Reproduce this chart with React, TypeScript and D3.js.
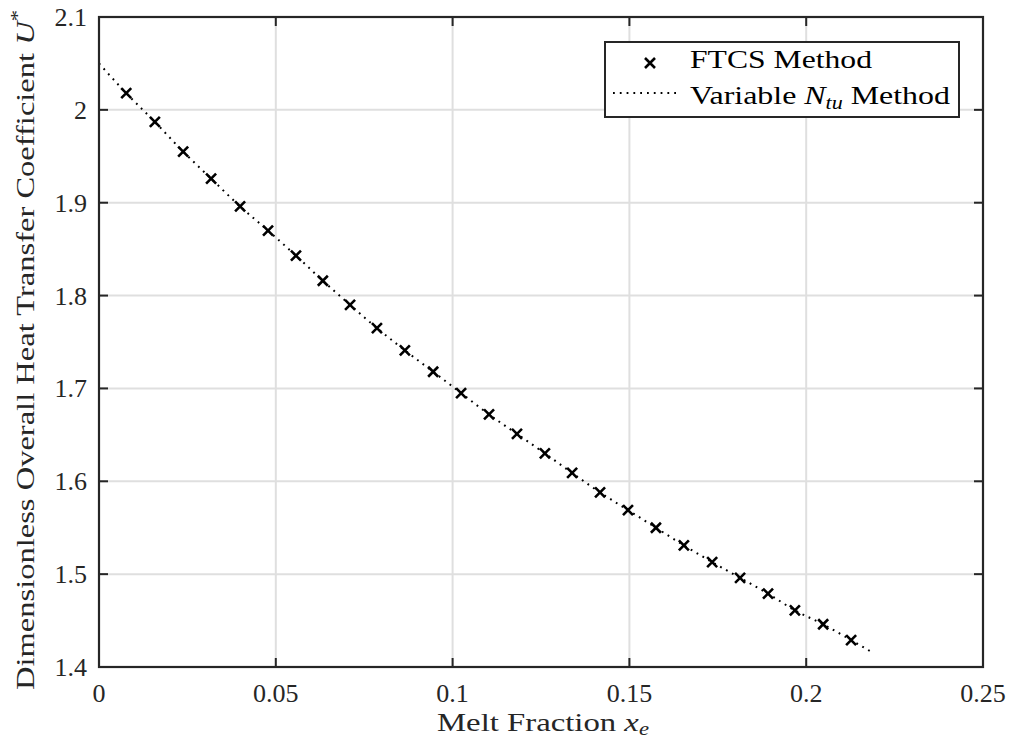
import React from "react";
import * as d3 from "d3";

const meltFraction = [0.0077, 0.0158, 0.0238, 0.0317, 0.0399, 0.0478, 0.0557, 0.0633, 0.071, 0.0786, 0.0865, 0.0945, 0.1024, 0.1103, 0.1182, 0.1261, 0.1338, 0.1417, 0.1496, 0.1575, 0.1654, 0.1734, 0.1813, 0.1892, 0.1968, 0.2048, 0.2127];
const ftcsU = [2.018, 1.987, 1.955, 1.926, 1.896, 1.87, 1.843, 1.816, 1.79, 1.765, 1.741, 1.718, 1.695, 1.672, 1.651, 1.63, 1.609, 1.588, 1.569, 1.55, 1.531, 1.513, 1.496, 1.479, 1.461, 1.446, 1.429];
const lineX = [0, 0.0077, 0.0158, 0.0238, 0.0317, 0.0399, 0.0478, 0.0557, 0.0633, 0.071, 0.0786, 0.0865, 0.0945, 0.1024, 0.1103, 0.1182, 0.1261, 0.1338, 0.1417, 0.1496, 0.1575, 0.1654, 0.1734, 0.1813, 0.1892, 0.1968, 0.2048, 0.2127, 0.219];
const lineU = [2.05, 2.018, 1.987, 1.955, 1.926, 1.896, 1.87, 1.843, 1.816, 1.79, 1.765, 1.741, 1.718, 1.695, 1.672, 1.651, 1.63, 1.609, 1.588, 1.569, 1.55, 1.531, 1.513, 1.496, 1.479, 1.461, 1.446, 1.429, 1.415];
const xTicks = [0, 0.05, 0.1, 0.15, 0.2, 0.25];
const xTickLabels = ["0", "0.05", "0.1", "0.15", "0.2", "0.25"];
const yTicks = [1.4, 1.5, 1.6, 1.7, 1.8, 1.9, 2.0, 2.1];
const yTickLabels = ["1.4", "1.5", "1.6", "1.7", "1.8", "1.9", "2", "2.1"];

const FONT = "'Liberation Serif', 'DejaVu Serif', serif";

export default function App() {
  const L = 99, R = 983, T = 17, B = 667;
  const x = d3.scaleLinear().domain([0, 0.25]).range([L, R]);
  const y = d3.scaleLinear().domain([1.4, 2.1]).range([B, T]);
  const line = d3
    .line<number>()
    .x((_, i) => x(lineX[i]))
    .y((d) => y(d))
    .curve(d3.curveMonotoneX);
  const axisColor = "#262626";
  const grid = "#dfdfdf";
  const tickLen = 9;
  const ms = 5;
  const cross = (cx: number, cy: number, k: string | number) => (
    <path
      key={k}
      d={`M${cx - ms},${cy - ms}L${cx + ms},${cy + ms}M${cx - ms},${cy + ms}L${cx + ms},${cy - ms}`}
      stroke="#000"
      strokeWidth={2.6}
      fill="none"
    />
  );
  return (
    <svg width={1010} height={744} style={{ position: "absolute", left: 0, top: 0, background: "#fff" }} fontFamily={FONT}>
      <rect x={0} y={0} width={1010} height={744} fill="#fff" />
      {xTicks.slice(1, -1).map((t) => (
        <line key={"gx" + t} x1={x(t)} x2={x(t)} y1={T} y2={B} stroke={grid} strokeWidth={2} />
      ))}
      {yTicks.slice(1, -1).map((t) => (
        <line key={"gy" + t} x1={L} x2={R} y1={y(t)} y2={y(t)} stroke={grid} strokeWidth={2} />
      ))}
      {xTicks.map((t) => (
        <g key={"tx" + t}>
          <line x1={x(t)} x2={x(t)} y1={B} y2={B - tickLen} stroke={axisColor} strokeWidth={2} />
          <line x1={x(t)} x2={x(t)} y1={T} y2={T + tickLen} stroke={axisColor} strokeWidth={2} />
        </g>
      ))}
      {yTicks.map((t) => (
        <g key={"ty" + t}>
          <line x1={L} x2={L + tickLen} y1={y(t)} y2={y(t)} stroke={axisColor} strokeWidth={2} />
          <line x1={R} x2={R - tickLen} y1={y(t)} y2={y(t)} stroke={axisColor} strokeWidth={2} />
        </g>
      ))}
      <path d={line(lineU) || ""} fill="none" stroke="#000" strokeWidth={2} strokeDasharray="1.8 5" />
      {meltFraction.map((v, i) => cross(x(v), y(ftcsU[i]), i))}
      <rect x={L} y={T} width={R - L} height={B - T} fill="none" stroke={axisColor} strokeWidth={2.2} />
      {xTicks.map((t, i) => (
        <text key={"lx" + t} x={x(t)} y={702} textAnchor="middle" fontSize={26} fill="#262626">
          {xTickLabels[i]}
        </text>
      ))}
      {yTicks.map((t, i) => (
        <text key={"ly" + t} x={87} y={y(t) + 9} textAnchor="end" fontSize={26} fill="#262626">
          {yTickLabels[i]}
        </text>
      ))}
      <text x={437} y={731} fontSize={26} fill="#262626" textLength={212} lengthAdjust="spacingAndGlyphs">
        Melt Fraction <tspan fontStyle="italic">x</tspan>
        <tspan fontStyle="italic" fontSize={18} dy={4}>e</tspan>
      </text>
      <text transform="translate(34,690) rotate(-90)" fontSize={26} fill="#262626" textLength={680} lengthAdjust="spacingAndGlyphs">
        Dimensionless Overall Heat Transfer Coefficient <tspan fontStyle="italic">U</tspan>
        <tspan fontSize={18} dy={-10}>*</tspan>
      </text>
      <rect x={605} y={42} width={354} height={75} fill="#fff" stroke={axisColor} strokeWidth={2} />
      {cross(650, 63, "leg")}
      <line x1={613} x2={681} y1={93} y2={93} stroke="#000" strokeWidth={2} strokeDasharray="1.8 5" />
      <text x={690} y={68} fontSize={26} fill="#000" textLength={182} lengthAdjust="spacingAndGlyphs">FTCS Method</text>
      <text x={690} y={104} fontSize={26} fill="#000" textLength={260} lengthAdjust="spacingAndGlyphs">
        Variable <tspan fontStyle="italic">N</tspan>
        <tspan fontStyle="italic" fontSize={18} dy={5}>tu</tspan>
        <tspan dy={-5}> Method</tspan>
      </text>
    </svg>
  );
}
